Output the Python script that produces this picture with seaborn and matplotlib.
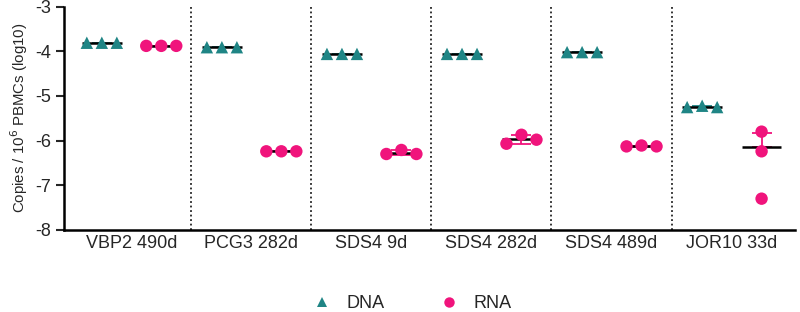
import numpy as np
import pandas as pd
import matplotlib
matplotlib.use("Agg")
import matplotlib.pyplot as plt
import seaborn as sns

samples = ["VBP2 490d", "PCG3 282d", "SDS4 9d", "SDS4 282d", "SDS4 489d", "JOR10 33d"]
dna = [
    [-3.81, -3.81, -3.81],
    [-3.91, -3.91, -3.91],
    [-4.06, -4.06, -4.06],
    [-4.06, -4.06, -4.06],
    [-4.02, -4.02, -4.02],
    [-5.25, -5.22, -5.25],
]
rna = [
    [-3.88, -3.88, -3.88],
    [-6.24, -6.24, -6.24],
    [-6.30, -6.21, -6.30],
    [-6.07, -5.87, -5.98],
    [-6.13, -6.11, -6.13],
    [-5.80, -6.24, -7.30],
]
yticks = [-3, -4, -5, -6, -7, -8]

TEAL = "#1f8585"
PINK = "#f0147c"

sns.set_theme(style="ticks")
plt.rcParams["font.family"] = ["Liberation Sans", "DejaVu Sans"]
plt.rcParams["axes.unicode_minus"] = False

rows = []
for i, s in enumerate(samples):
    for kind, vals in (("DNA", dna[i]), ("RNA", rna[i])):
        for r, v in enumerate(vals):
            rows.append(dict(sample=s, idx=i, kind=kind, rep=r, value=v))
df = pd.DataFrame(rows)

side = {"DNA": -0.245, "RNA": 0.25}
spread = 0.125

def xpos(g):
    vals = g["value"].values
    base = g["idx"].iloc[0] + side[g["kind"].iloc[0]]
    if vals.max() - vals.min() < 0.3:
        offs = (np.arange(len(vals)) - (len(vals) - 1) / 2) * spread
    else:
        offs = np.zeros(len(vals))
    return pd.Series(base + offs, index=g.index)

df["x"] = df.groupby(["idx", "kind"], group_keys=False).apply(xpos)

fig = plt.figure(figsize=(8, 3.12), dpi=100)
ax = fig.add_axes([0.08, 0.263, 0.914, 0.716])

# mean (linear) and SD, shown on log scale
for (i, kind), g in df.groupby(["idx", "kind"]):
    lin = 10 ** g["value"].values
    m = lin.mean()
    sd = lin.std(ddof=1)
    xc = i + side[kind]
    col = TEAL if kind == "DNA" else PINK
    ym = np.log10(m)
    up = np.log10(m + sd) - ym
    lo = ym - np.log10(m - sd) if m - sd > 0 else 0
    ax.errorbar([xc], [ym], yerr=[[lo], [up]], fmt="none", ecolor=col,
                elinewidth=1.3, capsize=7.5, capthick=1.3, zorder=2)
    ax.hlines(ym, xc - 0.165, xc + 0.165, color="black", lw=1.8, zorder=3)

sns.scatterplot(data=df, x="x", y="value", hue="kind", style="kind",
                palette={"DNA": TEAL, "RNA": PINK},
                markers={"DNA": "^", "RNA": "o"},
                s=80, linewidth=0, ax=ax, zorder=4, legend=True)

for b in np.arange(0.5, len(samples) - 0.5, 1):
    ax.axvline(b, color="#222222", lw=1.3, ls=(0, (1, 1.5)), zorder=1)

ax.set_xlim(-0.56, 5.53)
ax.set_ylim(-8, -3)
ax.set_yticks(yticks)
ax.set_yticklabels([str(t) for t in yticks], fontsize=13)
ax.set_xticks(range(len(samples)))
ax.set_xticklabels(samples, fontsize=13)
ax.tick_params(axis="x", length=0, pad=4)
ax.tick_params(axis="y", length=6, width=1.5, pad=3)
ax.set_xlabel("")
ax.set_ylabel("Copies / 10$^6$ PBMCs (log10)", fontsize=10.8, labelpad=4)
for sp in ("top", "right"):
    ax.spines[sp].set_visible(False)
for sp in ("left", "bottom"):
    ax.spines[sp].set_linewidth(1.8)
    ax.spines[sp].set_color("black")

leg = ax.get_legend()
handles = leg.legend_handles
labels = [t.get_text() for t in leg.get_texts()]
leg.remove()
for h in handles:
    try:
        h.set_markersize(7.5)
    except Exception:
        pass
ax.legend(handles, labels, loc="center", bbox_to_anchor=(0.47, -0.33),
          ncol=2, frameon=False, fontsize=13, handletextpad=0.35,
          columnspacing=2.6, borderaxespad=0)

fig.savefig("out.png", dpi=100, facecolor="white")
